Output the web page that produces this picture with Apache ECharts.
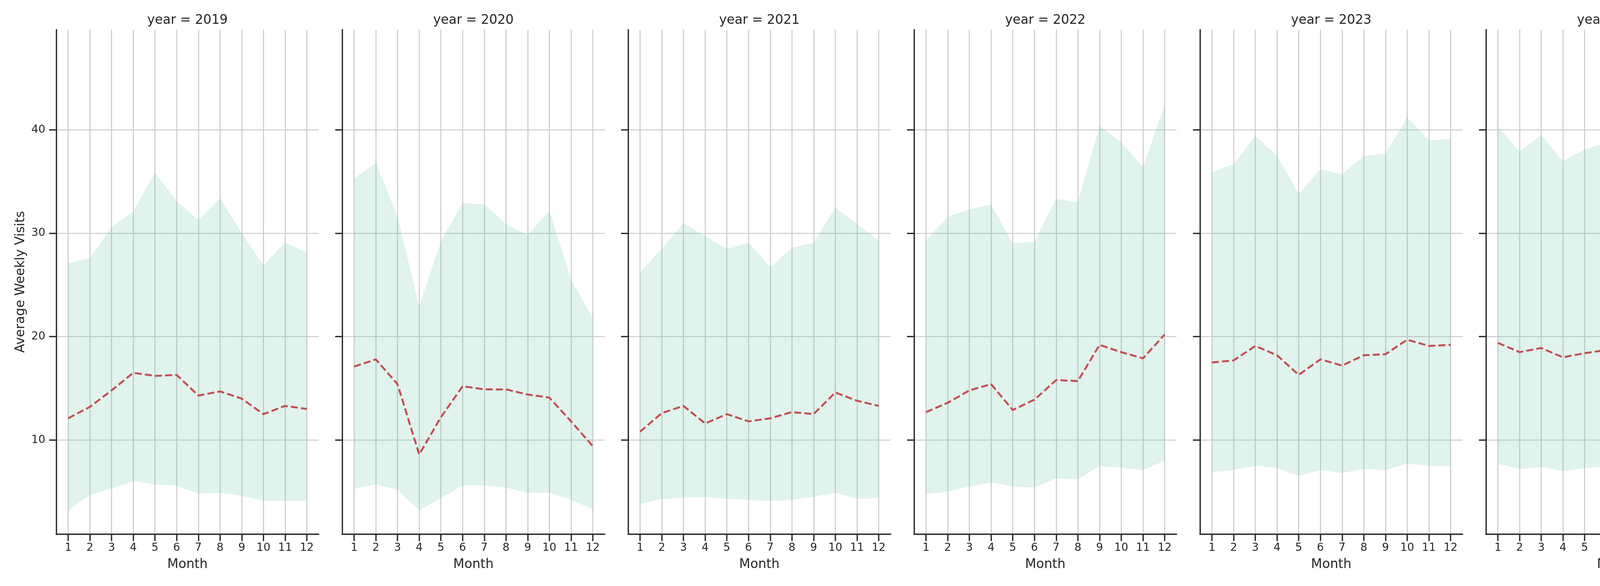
<!DOCTYPE html>
<html>
<head>
<meta charset="utf-8">
<script src="https://cdn.jsdelivr.net/npm/echarts@6/dist/echarts.min.js"></script>
<style>
  html, body { margin: 0; padding: 0; background: #fff; }
  #chart { width: 5250px; height: 1500px; }
</style>
</head>
<body>
<div id="chart"></div>
<script>
// months on the x axis and the facet years
const months = [1, 2, 3, 4, 5, 6, 7, 8, 9, 10, 11, 12];
const years = [2019, 2020, 2021, 2022, 2023, 2024, 2025];
const yTicks = [10, 20, 30, 40];

// values, per year
const q75_2019 = [27.1, 27.6, 30.6, 32.1, 35.9, 33.1, 31.3, 33.4, 30.0, 26.9, 29.1, 28.1];
const med_2019 = [12.1, 13.2, 14.8, 16.5, 16.2, 16.3, 14.3, 14.7, 14.0, 12.5, 13.3, 13.0];
const q25_2019 = [3.2, 4.7, 5.3, 6.0, 5.7, 5.6, 4.8, 4.9, 4.6, 4.1, 4.1, 4.1];

const q75_2020 = [35.3, 36.8, 31.6, 22.9, 29.2, 32.9, 32.8, 30.9, 29.8, 32.2, 25.5, 21.8];
const med_2020 = [17.1, 17.8, 15.4, 8.6, 12.2, 15.2, 14.9, 14.9, 14.4, 14.1, 11.8, 9.4];
const q25_2020 = [5.3, 5.7, 5.2, 3.2, 4.4, 5.6, 5.6, 5.4, 4.9, 4.9, 4.2, 3.3];

const q75_2021 = [26.2, 28.5, 31.0, 29.7, 28.5, 29.1, 26.7, 28.6, 29.1, 32.5, 30.9, 29.3];
const med_2021 = [10.8, 12.6, 13.3, 11.6, 12.5, 11.8, 12.1, 12.7, 12.5, 14.6, 13.8, 13.3];
const q25_2021 = [3.8, 4.3, 4.4, 4.5, 4.3, 4.2, 4.1, 4.2, 4.5, 4.9, 4.3, 4.4];

const q75_2022 = [29.3, 31.6, 32.3, 32.8, 29.0, 29.2, 33.3, 33.0, 40.4, 38.8, 36.4, 42.4];
const med_2022 = [12.7, 13.6, 14.8, 15.4, 12.9, 13.9, 15.8, 15.7, 19.2, 18.5, 17.9, 20.2];
const q25_2022 = [4.8, 5.0, 5.5, 5.9, 5.5, 5.4, 6.3, 6.2, 7.5, 7.3, 7.1, 8.0];

const q75_2023 = [35.9, 36.7, 39.4, 37.5, 33.8, 36.2, 35.7, 37.5, 37.7, 41.2, 39.0, 39.1];
const med_2023 = [17.5, 17.7, 19.1, 18.2, 16.3, 17.8, 17.2, 18.2, 18.3, 19.7, 19.1, 19.2];
const q25_2023 = [6.9, 7.1, 7.5, 7.3, 6.5, 7.1, 6.8, 7.2, 7.1, 7.7, 7.5, 7.5];

const q75_2024 = [40.3, 37.9, 39.5, 37.0, 38.1, 38.8, 39.1, 47.4, 43.7, 38.0, 38.8, 36.1];
const med_2024 = [19.4, 18.5, 18.9, 18.0, 18.4, 18.7, 19.0, 23.1, 20.8, 18.0, 18.8, 16.9];
const q25_2024 = [7.7, 7.2, 7.4, 7.0, 7.3, 7.4, 7.4, 9.0, 8.2, 7.1, 7.3, 6.7];

const q75_2025 = [35.3, 33.2, 34.1, 37.3, 34.1, 33.8, 35.0, 36.1, 44.6, 40.0];
const med_2025 = [16.9, 15.8, 16.2, 17.8, 16.4, 16.3, 16.7, 16.1, 19.6, 17.4];
const q25_2025 = [6.7, 6.3, 6.4, 7.1, 6.4, 6.4, 6.5, 6.3, 7.7, 7.0];

const q75s = [q75_2019, q75_2020, q75_2021, q75_2022, q75_2023, q75_2024, q75_2025];
const meds = [med_2019, med_2020, med_2021, med_2022, med_2023, med_2024, med_2025];
const q25s = [q25_2019, q25_2020, q25_2021, q25_2022, q25_2023, q25_2024, q25_2025];

const FONT = 'DejaVu Sans';
const INK = '#262626';
const RED = '#c44e52';
const BAND = 'rgba(102,194,165,0.2)';
// dashed legend key, drawn in a 67 x 23 box
const DASH_ICON = 'path://M0 0L67 0L67 0Z M0 23L67 23L67 23Z M0 9H19V14H0Z M27 9H46V14H27Z M54 9H67V14H54Z';

const chart = echarts.init(document.getElementById('chart'));

// one polygon per facet: upper edge left->right, lower edge right->left
function bandRenderer(lo, hi) {
    return function (params, api) {
        if (params.dataIndex !== 0) return null;
        const pts = [];
        for (let k = 0; k < hi.length; k++) pts.push(api.coord([months[k], hi[k]]));
        for (let k = lo.length - 1; k >= 0; k--) pts.push(api.coord([months[k], lo[k]]));
        return {
            type: 'polygon',
            shape: { points: pts },
            style: { fill: BAND, stroke: null }
        };
    };
}

const grids = [], xAxes = [], yAxes = [], titles = [], series = [];
years.forEach((yr, i) => {
    const left = 144 + 732 * i;
    grids.push({ left: left, top: 76, width: 672, height: 1291 });
    titles.push({
        text: 'year = ' + yr,
        left: left + 336, top: 36, textAlign: 'center', padding: 0,
        textStyle: { fontFamily: FONT, fontSize: 33, fontWeight: 'normal', color: INK }
    });
    xAxes.push({
        type: 'value', gridIndex: i, min: 0.45, max: 12.55,
        name: 'Month', nameLocation: 'middle', nameGap: 62,
        nameTextStyle: { fontFamily: FONT, fontSize: 33, color: INK },
        axisLine: { onZero: false, lineStyle: { color: INK, width: 3.3 } },
        axisTick: { customValues: months, length: 18, lineStyle: { color: INK, width: 3.3 } },
        axisLabel: { customValues: months, margin: 22, fontFamily: FONT, fontSize: 28, color: INK },
        splitLine: { show: true, lineStyle: { color: '#cccccc', width: 2.7 } }
    });
    yAxes.push({
        type: 'value', gridIndex: i, min: 0.9, max: 49.7,
        name: i === 0 ? 'Average Weekly Visits' : '',
        nameLocation: 'middle', nameGap: 74,
        nameTextStyle: { fontFamily: FONT, fontSize: 33, color: INK },
        axisLine: { show: true, lineStyle: { color: INK, width: 3.3 } },
        axisTick: { show: true, customValues: yTicks, length: 18, lineStyle: { color: INK, width: 3.3 } },
        axisLabel: { show: i === 0, customValues: yTicks, margin: 28, fontFamily: FONT, fontSize: 28, color: INK },
        splitLine: { show: true, lineStyle: { color: '#cccccc', width: 2.7 } }
    });
    const lo = q25s[i], hi = q75s[i], md = meds[i];
    series.push({
        name: '25th-75th Percentile', type: 'custom', xAxisIndex: i, yAxisIndex: i,
        silent: true, clip: true, z: 2,
        itemStyle: { color: BAND },
        encode: { x: 0, y: [1, 2] },
        renderItem: bandRenderer(lo, hi),
        data: hi.map((v, k) => [months[k], lo[k], v])
    });
    series.push({
        name: 'Median', type: 'line', xAxisIndex: i, yAxisIndex: i,
        symbol: 'none', silent: true,
        itemStyle: { color: RED },
        lineStyle: { color: RED, width: 5, type: [18, 8] },
        data: md.map((v, k) => [months[k], v]), z: 3
    });
});

chart.setOption({
    animation: false,
    backgroundColor: '#ffffff',
    title: titles,
    grid: grids,
    xAxis: xAxes,
    yAxis: yAxes,
    legend: {
        orient: 'vertical', left: 4754, top: 120,
        padding: [12, 14, 14, 14], itemGap: 16,
        itemWidth: 67, itemHeight: 23,
        backgroundColor: 'rgba(255,255,255,0.8)',
        borderColor: '#cccccc', borderWidth: 2.7, borderRadius: 6,
        selectedMode: false,
        textStyle: { fontFamily: FONT, fontSize: 33, color: INK, padding: [0, 0, 0, 22] },
        data: [
            { name: 'Median', icon: DASH_ICON, itemStyle: { color: RED, borderWidth: 0 } },
            { name: '25th-75th Percentile', icon: 'rect', itemStyle: { color: BAND, borderWidth: 0 } }
        ]
    },
    series: series
});
</script>
</body>
</html>
